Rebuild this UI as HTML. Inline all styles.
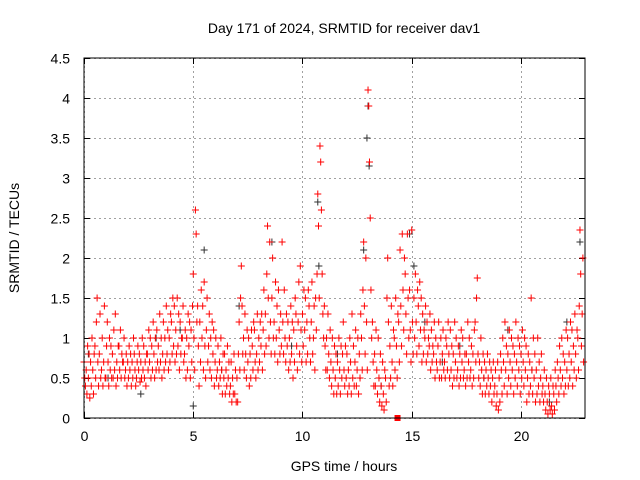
<!DOCTYPE html>
<html><head><meta charset="utf-8"><style>
body{margin:0;background:#fff;}
svg{display:block;font-family:"Liberation Sans",sans-serif;}
</style></head><body>
<svg id="chart" width="640" height="480" viewBox="0 0 640 480">
<rect width="640" height="480" fill="#fff"/>
<text x="344" y="33" font-size="14" text-anchor="middle">Day 171 of 2024, SRMTID for receiver dav1</text>
<text x="0" y="0" font-size="14" text-anchor="middle" transform="translate(19,238) rotate(-90)">SRMTID / TECUs</text>
<text x="344" y="471" font-size="14" text-anchor="middle">GPS time / hours</text>
<g id="grid"></g>
<g id="ticks"></g>
<g id="black"></g>
<g id="red"></g>
<rect x="84" y="58" width="501" height="360" fill="none" stroke="#000" stroke-width="1"/>
</svg>
<script>
const xTicks=[0,5,10,15,20];
const yTicks=[0,0.5,1,1.5,2,2.5,3,3.5,4,4.5];
const yTickLabels=["0","0.5","1","1.5","2","2.5","3","3.5","4","4.5"];
const redRows=[
[0.0,.7,.5,.4],[0.1,.6,.3,.9],[0.2,.5,.8,.25],[0.3,.7,.4,1.0],[0.4,.6,.3,.8],[0.5,.9,.5,1.2],[0.6,1.5,.7,.4],[0.7,.8,1.3,.5],[0.8,.6,1.0,.4],[0.9,.7,1.4,.5],
[1.0,.5,.9,1.2],[1.1,.7,.4,1.0],[1.2,.6,.9,.5],[1.3,.8,.5,1.1],[1.4,.6,1.3,.4],[1.5,.7,.5,.9],[1.6,.9,.6,1.1],[1.7,.5,.8,.7],[1.8,.7,1.0,.5],[1.9,.6,.8,.4],
[2.0,.7,.5,.9],[2.1,.6,.8,.4],[2.2,.7,.5,1.0],[2.3,.8,.6,.4],[2.4,.5,.7,.9],[2.5,.6,.8,.45],[2.6,.7,.5,1.0],[2.7,.6,.9,.5],[2.8,.7,.4,.8],[2.9,.8,.6,1.1],
[3.0,.7,1.0,.5],[3.1,.9,.6,1.2],[3.2,.8,.5,1.0],[3.3,.6,1.1,.7],[3.4,.9,.6,1.3],[3.5,.7,1.0,.5],[3.6,.8,1.2,.6],[3.7,1.0,.7,1.4],[3.8,.8,1.1,.6],[3.9,1.0,.7,1.3],
[4.0,1.2,.8,1.5],[4.1,.9,1.4,.7],[4.2,1.1,.8,1.5],[4.3,.9,1.3,.6],[4.4,1.2,.8,1.0],[4.5,1.0,1.4,.7],[4.6,.8,1.1,.5],[4.7,1.0,.6,1.3],[4.8,.9,1.2,.5],[4.9,1.1,.7,1.4],
[5.0,1.8,1.0,.6],[5.1,2.6,2.3,1.2],[5.2,1.4,.9,.4],[5.3,1.2,.7,1.6],[5.4,1.0,1.4,.6],[5.5,1.7,.9,.5],[5.6,1.1,1.5,.7],[5.7,.9,1.3,.6],[5.8,1.0,.5,1.2],[5.9,.8,1.1,.4],
[6.0,.7,1.0,.5],[6.1,.6,.9,.4],[6.2,.7,.5,1.0],[6.3,.6,.3,.8],[6.4,.5,.8,.3],[6.5,.6,.4,.9],[6.6,.5,.7,.3],[6.7,.4,.7,.2],[6.8,.5,.3,.8],[6.9,.3,.6,.2],
[7.0,.5,.2,.8],[7.1,1.2,.6,1.5],[7.2,1.9,1.4,.8],[7.3,1.0,.6,1.3],[7.4,.8,.5,1.1],[7.5,.7,1.0,.4],[7.6,.8,.5,1.1],[7.7,.9,.6,1.2],[7.8,1.1,.7,.5],[7.9,.8,1.3,.6],
[8.0,1.0,.7,1.2],[8.1,.9,1.3,.6],[8.2,1.1,1.6,.8],[8.3,1.3,.9,1.8],[8.4,2.4,1.5,1.0],[8.5,2.2,1.2,.8],[8.6,1.5,2.0,1.0],[8.7,1.2,.8,1.7],[8.8,1.0,1.4,.7],[8.9,1.6,1.1,.8],
[9.0,1.3,.9,2.2],[9.1,1.2,.8,1.6],[9.2,1.0,.7,1.3],[9.3,.9,1.2,.6],[9.4,1.0,.7,1.4],[9.5,.8,1.2,.5],[9.6,1.1,.7,1.5],[9.7,1.3,.9,.6],[9.8,1.2,1.7,.8],[9.9,1.9,1.1,.7],
[10.0,1.3,.9,1.6],[10.1,1.1,1.5,.7],[10.2,1.2,.8,1.6],[10.3,1.4,1.0,.7],[10.4,1.2,1.7,.8],[10.5,1.0,1.4,.6],[10.6,1.5,1.1,1.8],[10.7,2.8,2.4,1.5],[10.8,3.4,3.2,2.6],[10.9,1.8,1.3,1.0],
[11.0,1.4,.9,.6],[11.1,1.0,.6,1.3],[11.2,.8,.5,1.1],[11.3,.7,.4,1.0],[11.4,.6,.3,.9],[11.5,.5,.8,.3],[11.6,.7,.4,1.0],[11.7,.6,.3,.9],[11.8,.5,.8,1.2],[11.9,.6,.4,.9],
[12.0,.5,.8,.3],[12.1,.6,.4,1.0],[12.2,.7,.3,1.3],[12.3,.5,.9,.4],[12.4,.7,1.1,.4],[12.5,.6,1.0,.3],[12.6,.8,.5,1.3],[12.7,1.0,.6,1.6],[12.8,2.2,1.4,.8],[12.9,2.0,1.2,.6],
[13.0,4.1,3.9,3.2],[13.1,2.5,1.6,1.0],[13.2,1.2,.7,.4],[13.3,.8,.4,1.1],[13.4,.6,.3,1.0],[13.5,.5,.2,.8],[13.6,.4,.15,.7],[13.7,.3,.1,.6],[13.8,.5,.2,1.5],[13.9,2.0,1.2,.4],
[14.0,.9,.5,1.4],[14.1,.7,.4,1.1],[14.2,1.0,.6,1.5],[14.3,.9,.5,1.3],[14.4,1.2,.7,2.1],[14.5,1.4,.9,2.3],[14.6,1.6,1.1,2.0],[14.7,1.8,1.3,.8],[14.8,2.3,1.5,1.0],[14.9,1.6,1.1,.7],
[15.0,2.35,1.2,.8],[15.1,1.5,1.0,1.8],[15.2,1.2,.8,1.6],[15.3,1.4,.9,1.7],[15.4,1.1,1.5,.7],[15.5,1.3,.8,1.1],[15.6,1.0,1.4,.7],[15.7,1.2,.8,1.0],[15.8,.9,1.3,.6],[15.9,1.1,.7,.9],
[16.0,.8,1.2,.5],[16.1,1.0,.7,.6],[16.2,.9,1.2,.5],[16.3,.7,1.0,.5],[16.4,.8,1.1,.6],[16.5,.7,.5,1.0],[16.6,.9,.6,1.2],[16.7,.8,.5,1.1],[16.8,.6,.9,.4],[16.9,.8,.5,1.2],
[17.0,.7,1.0,.5],[17.1,.6,.9,.4],[17.2,.8,.5,1.1],[17.3,.7,1.0,.5],[17.4,.6,.8,.4],[17.5,.8,.5,1.2],[17.6,.7,1.0,.5],[17.7,.6,.9,.4],[17.8,.8,.5,1.1],[17.9,1.2,.7,1.5],
[18.0,1.75,.8,.5],[18.1,.7,.4,1.0],[18.2,.6,.3,.8],[18.3,.5,.7,.3],[18.4,.6,.4,.8],[18.5,.5,.3,.7],[18.6,.4,.6,.2],[18.7,.5,.7,.3],[18.8,.4,.6,.15],[18.9,.3,.7,.1],
[19.0,.5,.2,.8],[19.1,.6,.3,1.0],[19.2,.7,.4,1.2],[19.3,.6,.9,.3],[19.4,.8,.5,1.1],[19.5,.7,.4,1.0],[19.6,.6,.9,.3],[19.7,.8,.5,1.2],[19.8,.7,.4,1.0],[19.9,.6,.9,.3],
[20.0,.8,.5,1.1],[20.1,.7,.4,1.0],[20.2,.6,.9,.2],[20.3,.5,.8,.3],[20.4,.7,.4,1.5],[20.5,.6,.3,1.0],[20.6,.5,.8,.2],[20.7,.6,.3,1.0],[20.8,.4,.7,.2],[20.9,.5,.8,.3],
[21.0,.4,.2,.6],[21.1,.3,.1,.5],[21.2,.2,.05,.4],[21.3,.3,.1,.5],[21.4,.15,.05,.4],[21.5,.3,.1,.6],[21.6,.4,.2,.7],[21.7,.5,.3,.9],[21.8,.6,.4,1.0],[21.9,.5,.8,.3],
[22.0,.7,.4,1.1],[22.1,.6,1.0,.4],[22.2,.8,.5,1.2],[22.3,.7,1.1,.4],[22.4,.9,.6,1.3],[22.5,.8,.5,1.1],[22.6,1.0,.6,1.4],[22.7,2.35,1.8,.9],[22.8,1.3,2.0,.7]
];
const blackTimes=[0.2,1.1,2.6,3.3,4.4,5.0,5.5,6.3,7.1,8.6,9.5,10.7,10.75,11.6,12.8,12.95,13.0,13.05,13.6,14.9,15.1,15.6,16.4,17.2,18.3,19.4,20.5,21.3,22.1,22.7];
const blackVals=[0.8,0.5,0.3,1.0,1.1,0.15,2.1,0.6,1.4,2.2,0.9,2.7,1.9,0.8,2.1,3.5,3.9,3.15,0.4,2.3,1.9,1.2,0.7,0.9,0.5,1.1,0.6,0.2,1.2,2.2];
const squareT=[14.35], squareV=[0];

const NS='http://www.w3.org/2000/svg';
const X0=84,X1=585,Y0=418,Y1=58,XMAX=22.93,YMAX=4.5;
function sx(t){return X0+t/XMAX*(X1-X0);}
function sy(v){return Y0-v/YMAX*(Y0-Y1);}
const grid=document.getElementById('grid'),ticks=document.getElementById('ticks');
function line(g,x1,y1,x2,y2,st,dash){const l=document.createElementNS(NS,'line');l.setAttribute('x1',x1);l.setAttribute('y1',y1);l.setAttribute('x2',x2);l.setAttribute('y2',y2);l.setAttribute('stroke',st);if(dash)l.setAttribute('stroke-dasharray',dash);g.appendChild(l);return l;}
function txt(x,y,s,anchor){const t=document.createElementNS(NS,'text');t.setAttribute('x',x);t.setAttribute('y',y);t.setAttribute('font-size','14');t.setAttribute('text-anchor',anchor);t.textContent=s;ticks.appendChild(t);return t;}
xTicks.forEach(t=>{const x=Math.round(sx(t))+0.5;
 const g=line(grid,x,Y0,x,Y1,'#a0a0a0','2,3');
 
 
 line(ticks,x,Y0,x,Y0-6,'#000');line(ticks,x,Y1,x,Y1+6,'#000');
 const lb=txt(x,Y0+23,String(t),'middle');
 
 
});
yTicks.forEach((v,i)=>{const y=Math.round(sy(v))+0.5;
 const g=line(grid,X0,y,X1,y,'#a0a0a0','2,3');
 
 
 line(ticks,X0,y,X0+6,y,'#000');line(ticks,X1,y,X1-6,y,'#000');
 const lb=txt(X0-14,y+5,yTickLabels[i],'end');
 
 
});
function cross(g,t,v,col){const x=sx(t),y=sy(v);const p=document.createElementNS(NS,'path');
 p.setAttribute('d','M'+(x-3.5)+' '+y+'H'+(x+3.5)+'M'+x+' '+(y-3.5)+'V'+(y+3.5));
 p.setAttribute('stroke',col);p.setAttribute('stroke-width','1');
 
 
 g.appendChild(p);}
const blk=document.getElementById('black');
blackTimes.forEach((t,i)=>cross(blk,t,blackVals[i],'#303030'));
const red=document.getElementById('red');
redRows.forEach(r=>{cross(red,r[0],r[1],'#ff0000');cross(red,r[0]+0.033,r[2],'#ff0000');cross(red,r[0]+0.066,r[3],'#ff0000');});
squareT.forEach((t,i)=>{const s=document.createElementNS(NS,'rect');
 s.setAttribute('x',sx(t)-3);s.setAttribute('y',sy(squareV[i])-3);s.setAttribute('width',6);s.setAttribute('height',6);s.setAttribute('fill','#ff0000');
 
 
 red.appendChild(s);});
</script>
</body></html>
